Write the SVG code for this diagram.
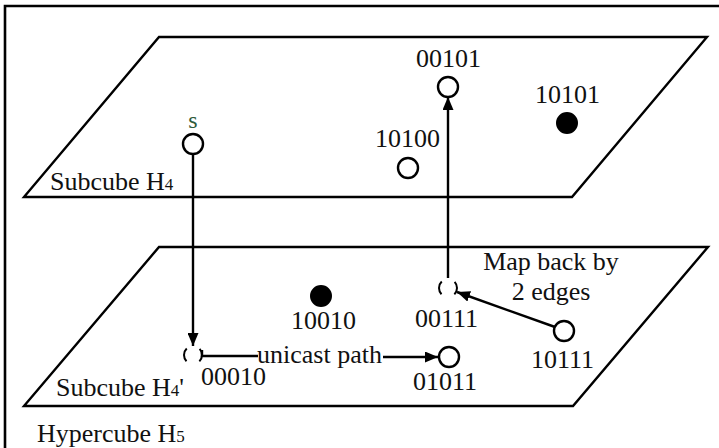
<svg xmlns="http://www.w3.org/2000/svg" width="719" height="448" viewBox="0 0 719 448">
<style>
.t{font-family:"Liberation Serif","Times New Roman",serif;font-size:26px;fill:#111}
.sub{font-size:17px}
.plane{fill:none;stroke:#000;stroke-width:2.4;stroke-linejoin:miter}
.node{fill:#fff;stroke:#000;stroke-width:2.4}
.filled{fill:#000;stroke:#000;stroke-width:2}
.ghost{fill:none;stroke:#000;stroke-width:2;stroke-dasharray:14 14.27;stroke-dashoffset:7}
.edge{fill:none;stroke:#000;stroke-width:2.4}
</style>
<defs>
<marker id="ah" viewBox="0 0 13 11" refX="13" refY="5.5" markerWidth="13" markerHeight="11" markerUnits="userSpaceOnUse" orient="auto">
<path d="M0,0 L13,5.5 L0,11 Z" fill="#000"/>
</marker>
</defs>
<rect width="719" height="448" fill="#fff"/>
<path d="M719,6 H5 V448" fill="none" stroke="#000" stroke-width="2.6"/>
<g id="planes">
<path class="plane" d="M159,37 H707 L572,197 H24 Z"/>
<path class="plane" d="M159,247 H708 L573,406 H24 Z"/>
<text class="t" x="50" y="190">Subcube H<tspan class="sub">4</tspan></text>
<text class="t" x="56" y="396">Subcube H<tspan class="sub">4</tspan>'</text>
<text class="t" x="37" y="442">Hypercube H<tspan class="sub">5</tspan></text>
</g>
<g id="connectors">
<line class="edge" x1="193" y1="154" x2="193" y2="346" marker-end="url(#ah)"/>
<path class="edge" d="M202,350 V356 H258"/>
<line class="edge" x1="383" y1="357" x2="438" y2="357" marker-end="url(#ah)"/>
<line class="edge" x1="448" y1="278" x2="448" y2="97" marker-end="url(#ah)"/>
<line class="edge" x1="555" y1="327" x2="457" y2="292" marker-end="url(#ah)"/>
</g>
<g id="n-s">
<circle class="node" cx="193" cy="144" r="10"/>
<text class="t" x="193" y="128" text-anchor="middle" style="fill:#2d5a3a;font-size:24px">s</text>
</g>
<g id="n-00101">
<circle class="node" cx="448" cy="87" r="10"/>
<text class="t" x="416" y="67">00101</text>
</g>
<g id="n-10101">
<circle class="filled" cx="567" cy="123" r="10"/>
<text class="t" x="535" y="103">10101</text>
</g>
<g id="n-10100">
<circle class="node" cx="408" cy="168" r="10"/>
<text class="t" x="375" y="147">10100</text>
</g>
<g id="n-10010">
<circle class="filled" cx="321" cy="296" r="10"/>
<text class="t" x="291" y="329">10010</text>
</g>
<g id="n-00010">
<circle class="ghost" cx="193" cy="355" r="9"/>
<text class="t" x="201" y="385">00010</text>
</g>
<g id="n-unicast">
<text class="t" x="257" y="363">unicast path</text>
</g>
<g id="n-01011">
<circle class="node" cx="449" cy="357" r="10"/>
<text class="t" x="413" y="390">01011</text>
</g>
<g id="n-00111">
<circle class="ghost" cx="448" cy="288" r="9"/>
<text class="t" x="415" y="327">00111</text>
</g>
<g id="n-10111">
<circle class="node" cx="564" cy="331" r="10"/>
<text class="t" x="531" y="368">10111</text>
</g>
<g id="n-mapback">
<text class="t" x="551" y="270" text-anchor="middle">Map back by</text>
<text class="t" x="551" y="300" text-anchor="middle">2 edges</text>
</g>
</svg>
